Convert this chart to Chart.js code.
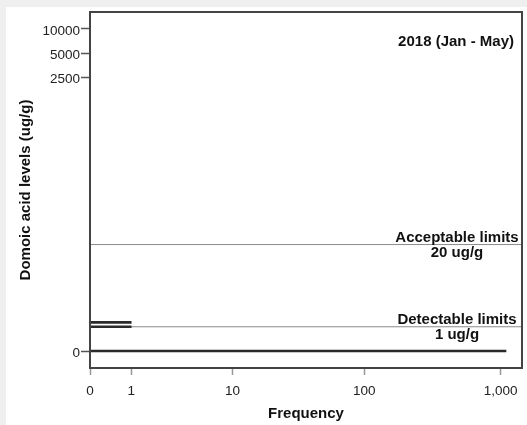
<!DOCTYPE html>
<html>
<head>
<meta charset="utf-8">
<script src="https://cdn.jsdelivr.net/npm/chart.js@4.4.1/dist/chart.umd.min.js"></script>
<style>
  html, body { margin: 0; padding: 0; background: #efefef; }
  #panel { position: absolute; left: 6px; top: 7px; width: 521px; height: 418px; background: #fff; }
  canvas { display: block; }
</style>
</head>
<body>
<div id="panel"><canvas id="chart" width="521" height="418"></canvas></div>
<script>
// Histogram of domoic acid levels, both axes on a log10(v + 1) scale
const acidLevels = [0, 1, 1.27];
const frequencies = [1093, 1, 1];

const limitValues = [20, 1];
const limitNames = ['Acceptable limits', 'Detectable limits'];
const limitUnits = ['20 ug/g', '1 ug/g'];

const xTicks = [0, 1, 10, 100, 1000];
const yTicks = [0, 2500, 5000, 10000];
const xRange = [0, 1431];
const yRange = [-0.385, 16256];

const periodLabel = '2018 (Jan - May)';
const FONT = "'Liberation Sans', Arial, sans-serif";

// Linear scale that maps values through log10(v + 1) so zero stays on the axis
class Log1pScale extends Chart.LinearScale {
  _lims() {
    return [Math.log10(this.min + 1), Math.log10(this.max + 1)];
  }
  getPixelForValue(value) {
    const [lo, hi] = this._lims();
    return this.getPixelForDecimal((Math.log10(value + 1) - lo) / (hi - lo));
  }
  getValueForPixel(pixel) {
    const [lo, hi] = this._lims();
    return Math.pow(10, lo + this.getDecimalForPixel(pixel) * (hi - lo)) - 1;
  }
}
Log1pScale.id = 'log1p';
Log1pScale.defaults = Chart.LinearScale.defaults;
Chart.register(Log1pScale);

const frame = {
  id: 'frame',
  afterDraw(chart) {
    const { ctx, chartArea: a } = chart;
    ctx.save();
    ctx.strokeStyle = '#444';
    ctx.lineWidth = 2;
    ctx.strokeRect(a.left, a.top, a.right - a.left, a.bottom - a.top);
    ctx.restore();
  }
};

const notes = {
  id: 'notes',
  afterDatasetsDraw(chart) {
    const { ctx, chartArea: a } = chart;
    const y = chart.scales.y;
    ctx.save();
    ctx.fillStyle = '#111';
    ctx.font = 'bold 15px ' + FONT;
    ctx.textBaseline = 'middle';

    ctx.textAlign = 'right';
    ctx.fillText(periodLabel, a.right - 8, a.top + 30);

    ctx.textAlign = 'center';
    const cx = a.right - 65;
    limitValues.forEach((v, i) => {
      const py = y.getPixelForValue(v);
      ctx.fillText(limitNames[i], cx, py - 6.5);
      ctx.fillText(limitUnits[i], cx, py + 8.5);
    });
    ctx.restore();
  }
};

const limitSets = limitValues.map(v => ({
  type: 'line',
  data: [{ x: xRange[0], y: v }, { x: xRange[1], y: v }],
  borderColor: '#8a8a8a',
  borderWidth: 1,
  pointRadius: 0,
  order: 2
}));

new Chart(document.getElementById('chart'), {
  type: 'bar',
  data: {
    datasets: [
      {
        type: 'bar',
        indexAxis: 'y',
        data: acidLevels.map((lvl, i) => ({ x: frequencies[i], y: lvl })),
        backgroundColor: '#2a2a2a',
        barThickness: 2,
        order: 1
      },
      ...limitSets
    ]
  },
  options: {
    responsive: false,
    animation: false,
    layout: { padding: { left: 0, top: 5, right: 5, bottom: 0 } },
    plugins: { legend: { display: false }, tooltip: { enabled: false } },
    scales: {
      x: {
        type: 'log1p',
        position: 'bottom',
        min: xRange[0],
        max: xRange[1],
        bounds: 'data',
        offset: false,
        afterBuildTicks: axis => { axis.ticks = xTicks.map(v => ({ value: v })); },
        afterFit: axis => { axis.height = 57; axis.paddingLeft = 0; axis.paddingRight = 0; },
        border: { display: false },
        grid: { offset: false, drawOnChartArea: false, tickLength: 7, tickColor: '#999', tickWidth: 1.5 },
        ticks: {
          autoSkip: false,
          maxRotation: 0,
          padding: 8,
          color: '#222',
          font: { family: FONT, size: 13.5 },
          callback: v => v.toLocaleString('en-US')
        },
        title: {
          display: true,
          text: 'Frequency',
          color: '#111',
          font: { family: FONT, size: 15, weight: 'bold' },
          padding: { top: 0, bottom: 2 }
        }
      },
      y: {
        type: 'log1p',
        position: 'left',
        min: yRange[0],
        max: yRange[1],
        bounds: 'data',
        offset: false,
        afterBuildTicks: axis => { axis.ticks = yTicks.map(v => ({ value: v })); },
        afterFit: axis => { axis.width = 84; axis.paddingTop = 0; axis.paddingBottom = 0; },
        border: { display: false },
        grid: { offset: false, drawOnChartArea: false, tickLength: 9, tickColor: '#555', tickWidth: 1.5 },
        ticks: {
          autoSkip: false,
          padding: 1,
          labelOffset: 2,
          color: '#222',
          font: { family: FONT, size: 13.5 },
          callback: v => String(v)
        },
        title: {
          display: true,
          text: 'Domoic acid levels (ug/g)',
          color: '#111',
          font: { family: FONT, size: 15, weight: 'bold' },
          padding: { top: 11, bottom: 4 }
        }
      }
    }
  },
  plugins: [frame, notes]
});
</script>
</body>
</html>
